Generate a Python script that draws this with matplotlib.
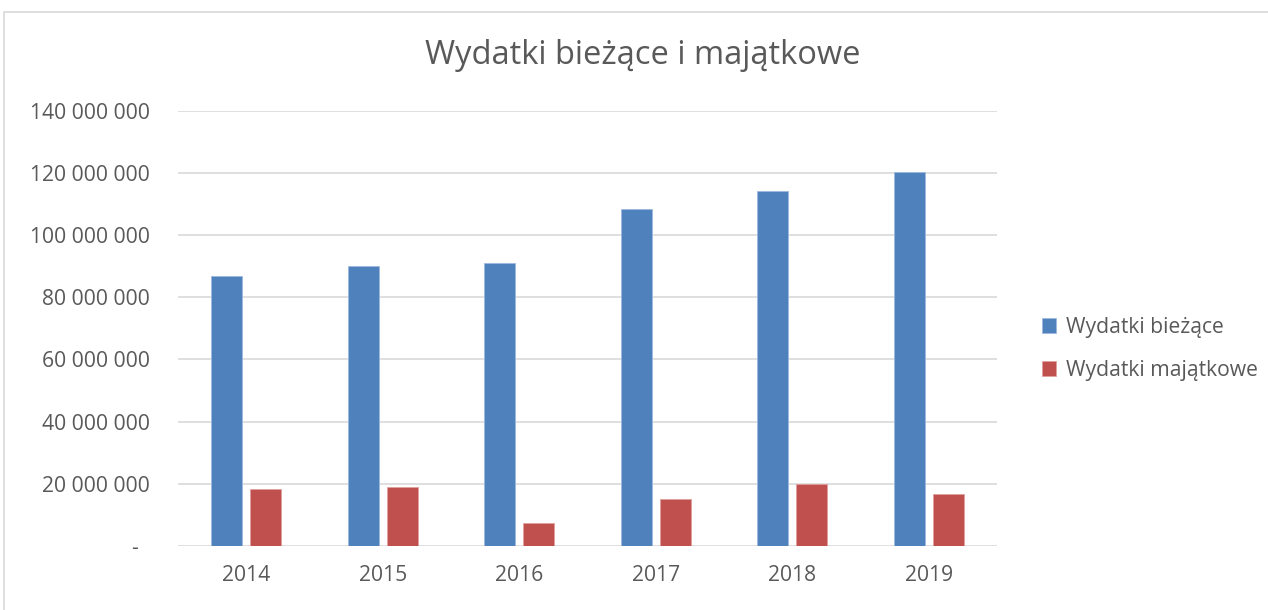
import matplotlib
matplotlib.use("Agg")
import matplotlib.pyplot as plt
from matplotlib.patches import Rectangle
from matplotlib.ticker import FuncFormatter
import numpy as np

years = ["2014", "2015", "2016", "2017", "2018", "2019"]
biezace = [86.8e6, 90.2e6, 90.9e6, 108.3e6, 114.1e6, 120.2e6]
majatkowe = [18.3e6, 18.9e6, 7.4e6, 15.1e6, 19.9e6, 16.6e6]
series_names = ["Wydatki bieżące", "Wydatki majątkowe"]
title = "Wydatki bieżące i majątkowe"

plt.rcParams['font.family'] = ['Open Sans', 'DejaVu Sans']
txt = '#595959'

fig = plt.figure(figsize=(12.68, 6.10), dpi=100)
ax = fig.add_axes([178/1268, 64/610, (997-178)/1268, (546-110.7)/610])

x = np.arange(len(years))
w = 0.227
ax.bar(x - 0.03 - w/2, biezace, width=w, color='#4F81BD', edgecolor='#9DB9DE', linewidth=0.6, label=series_names[0], zorder=3)
ax.bar(x + 0.03 + w/2, majatkowe, width=w, color='#C0504D', edgecolor='#E0A09E', linewidth=0.6, label=series_names[1], zorder=3)

ax.set_xlim(-0.5, len(years) - 0.5)
ax.set_ylim(0, 140e6)
ax.set_yticks(np.arange(0, 140e6 + 1, 20e6))
def fmt(v, pos):
    if abs(v) < 1:
        return "-  "
    return f"{int(round(v)):,}".replace(",", " ")
ax.yaxis.set_major_formatter(FuncFormatter(fmt))
ax.set_xticks(x)
ax.set_xticklabels(years)
ax.grid(axis='y', color='#D9D9D9', linewidth=1.2, zorder=0)
for s in ax.spines.values():
    s.set_visible(False)
ax.tick_params(axis='both', length=0, colors=txt, labelsize=15.2)
ax.tick_params(axis='y', pad=20)
ax.tick_params(axis='x', pad=14)

fig.text(643/1268, 1 - 56/610, title, ha='center', va='center', fontsize=23.5, color=txt)

leg = fig.legend(loc='center left', bbox_to_anchor=(1023/1268, 1 - 349/610), frameon=False,
                 fontsize=15.2, labelcolor=txt, handlelength=0.68, handleheight=0.68,
                 handletextpad=0.45, labelspacing=1.05)

fig.patches.append(Rectangle((3.5/1268, -0.1), 1.2, 1 - 12.5/610 + 0.1, transform=fig.transFigure,
                             fill=False, edgecolor='#D9D9D9', linewidth=1.2))

fig.savefig("out.png", dpi=100)
